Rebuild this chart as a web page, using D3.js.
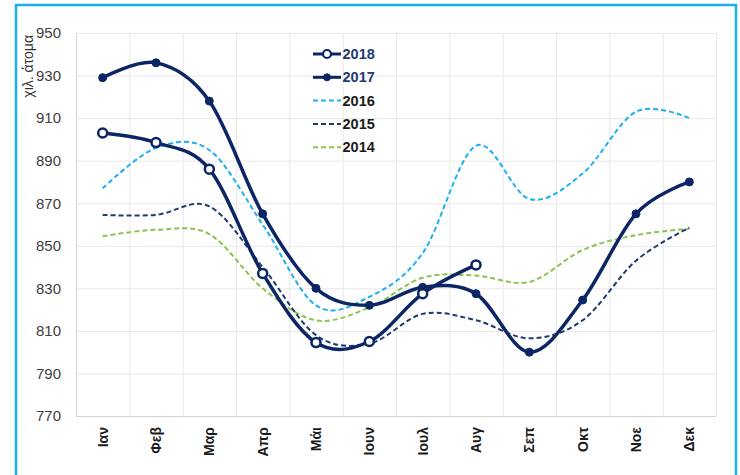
<!DOCTYPE html>
<html>
<head>
<meta charset="utf-8">
<script src="https://cdn.jsdelivr.net/npm/d3@7"></script>
<style>
  body { margin: 0; background: #fff; }
  svg { display: block; font-family: "Liberation Sans", Arial, sans-serif; }
</style>
</head>
<body>
<div id="chart"></div>
<script>
// months on the x axis
var months = ["Ιαν", "Φεβ", "Μαρ", "Απρ", "Μάι", "Ιουν", "Ιουλ", "Αυγ", "Σεπ", "Οκτ", "Νοε", "Δεκ"];
var yTicks = [770, 790, 810, 830, 850, 870, 890, 910, 930, 950];

// values, thousand persons
var v2018 = [903, 898.5, 886, 837, 804.5, 805, 827.5, 841];
var v2017 = [929, 936, 918, 865, 830, 822, 830.5, 827.5, 800, 824.5, 865, 880];
var v2016 = [877, 896, 895, 860, 822, 826, 846.5, 897, 872, 884, 913, 910];
var v2015 = [864.5, 864.5, 868.5, 840, 808, 804, 818, 815, 806.5, 815, 843, 858.5];
var v2014 = [854.5, 857.5, 855.5, 830, 815, 821, 835, 836, 833, 848, 855, 858];

var width = 740, height = 475;
var plotL = 76, plotR = 716, plotT = 33, plotB = 416;

var svg = d3.select("#chart").append("svg")
    .attr("width", width)
    .attr("height", height);

// outer frame
svg.append("rect")
    .attr("x", 16).attr("y", 5)
    .attr("width", 720).attr("height", 490)
    .attr("fill", "#fff")
    .attr("stroke", "#1AAFEE")
    .attr("stroke-width", 2.5);

var x = d3.scaleBand().domain(months).range([plotL, plotR]);
var y = d3.scaleLinear().domain([770, 950]).range([plotB, plotT]);
var bw = x.bandwidth();

// grid
var grid = svg.append("g");
grid.selectAll(".h").data(yTicks).enter().append("line")
    .attr("x1", plotL).attr("x2", plotR)
    .attr("y1", d => y(d) + 0.5).attr("y2", d => y(d) + 0.5)
    .attr("stroke", d => d == 770 ? "#d4d4d4" : "#e8e8e8");
grid.selectAll(".v").data(d3.range(months.length + 1)).enter().append("line")
    .attr("x1", i => plotL + i * bw + 0.5).attr("x2", i => plotL + i * bw + 0.5)
    .attr("y1", plotT).attr("y2", plotB)
    .attr("stroke", i => i == 0 ? "#d4d4d4" : "#e8e8e8");

// y axis labels
var yAxis = svg.append("g")
    .attr("transform", "translate(" + plotL + ",0)")
    .call(d3.axisLeft(y).tickValues(yTicks).tickSize(0).tickPadding(15));
yAxis.select(".domain").remove();
yAxis.selectAll("text")
    .attr("font-size", 15)
    .attr("font-family", "Liberation Sans, Arial, sans-serif")
    .attr("fill", "#404040");

// x axis labels, rotated
svg.append("g").selectAll("text").data(months).enter().append("text")
    .attr("transform", d => "translate(" + (x(d) + bw / 2) + ",427) rotate(-90)")
    .attr("dy", "0.35em")
    .attr("text-anchor", "end")
    .attr("font-size", 14)
    .attr("font-weight", "bold")
    .attr("fill", "#1a1a1a")
    .text(d => d);

// axis title
svg.append("text")
    .attr("transform", "translate(28,35) rotate(-90)")
    .attr("dy", "0.35em")
    .attr("text-anchor", "end")
    .attr("font-size", 14)
    .attr("fill", "#333")
    .text("χιλ. άτομα");

var line = d3.line()
    .x((d, i) => x(months[i]) + bw / 2)
    .y(d => y(d))
    .curve(d3.curveCardinal.tension(0));

var series = [
    { name: "2014", values: v2014, color: "#8CC34B", width: 2, dash: "5,3" },
    { name: "2015", values: v2015, color: "#1F3A73", width: 2, dash: "5,3" },
    { name: "2016", values: v2016, color: "#1BB0F0", width: 2, dash: "5,3" },
    { name: "2017", values: v2017, color: "#0B2565", width: 3.5, dash: null, marker: "filled" },
    { name: "2018", values: v2018, color: "#0B2565", width: 3.5, dash: null, marker: "open" }
];

series.forEach(function(s) {
    svg.append("path")
        .datum(s.values)
        .attr("fill", "none")
        .attr("stroke", s.color)
        .attr("stroke-width", s.width)
        .attr("stroke-dasharray", s.dash)
        .attr("d", line);
    if (s.marker) {
        svg.append("g").selectAll("circle").data(s.values).enter().append("circle")
            .attr("cx", (d, i) => x(months[i]) + bw / 2)
            .attr("cy", d => y(d))
            .attr("r", s.marker == "open" ? 4.5 : 4)
            .attr("fill", s.marker == "open" ? "#fff" : s.color)
            .attr("stroke", s.color)
            .attr("stroke-width", s.marker == "open" ? 2.5 : 1);
    }
});

// legend
var legend = svg.append("g").attr("transform", "translate(313,54)");
var legendOrder = series.slice().reverse();
legendOrder.forEach(function(s, i) {
    var g = legend.append("g").attr("transform", "translate(0," + (i * 23.3) + ")");
    g.append("line")
        .attr("x1", 0).attr("x2", 28)
        .attr("stroke", s.color)
        .attr("stroke-width", s.marker ? 3 : 2)
        .attr("stroke-dasharray", s.dash);
    if (s.marker) {
        g.append("circle")
            .attr("cx", 14).attr("cy", 0)
            .attr("r", s.marker == "open" ? 4 : 3.5)
            .attr("fill", s.marker == "open" ? "#fff" : s.color)
            .attr("stroke", s.color)
            .attr("stroke-width", s.marker == "open" ? 2.2 : 1);
    }
    g.append("text")
        .attr("x", 29.5)
        .attr("dy", "0.35em")
        .attr("font-size", 14.5)
        .attr("font-weight", "bold")
        .attr("fill", s.marker ? "#1F3A73" : "#1a1a1a")
        .text(s.name);
});
</script>
</body>
</html>
